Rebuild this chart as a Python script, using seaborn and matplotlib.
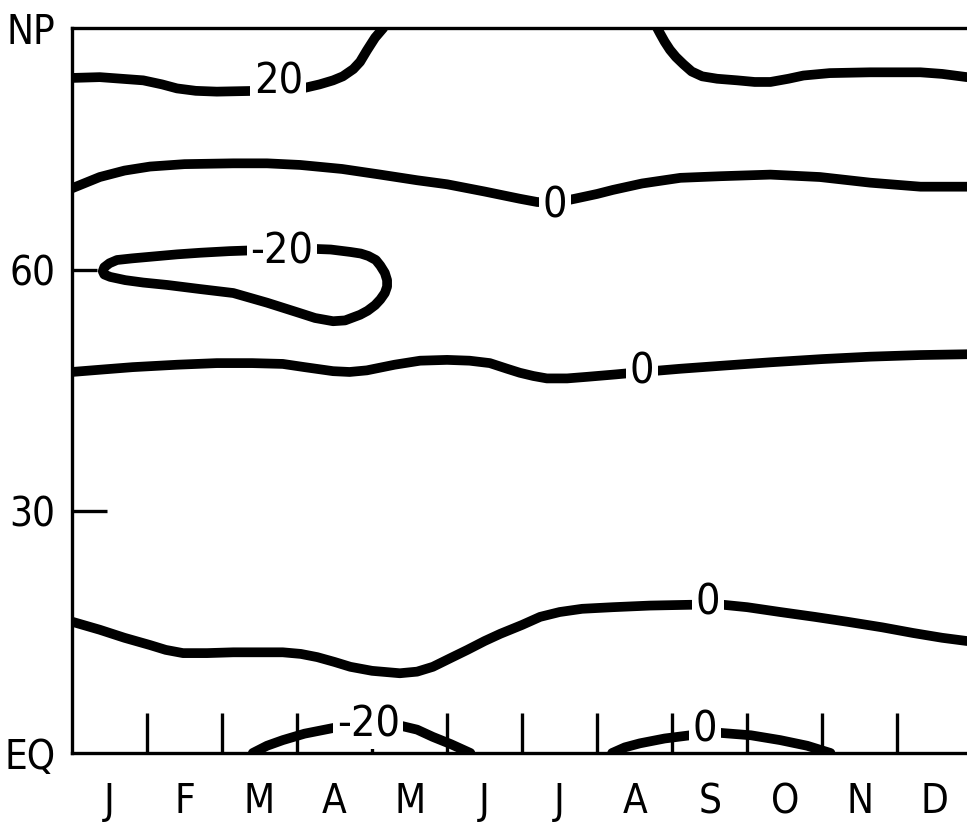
import matplotlib
matplotlib.use("Agg")
import matplotlib.pyplot as plt
import seaborn as sns

# ---- axis categories -------------------------------------------------------
months = ["J", "F", "M", "A", "M", "J", "J", "A", "S", "O", "N", "D"]
lat_ticks = [0, 30, 60, 90]
lat_tick_labels = ["EQ", "30", "60", "NP"]

# ---- isolines: month position (0 = start of Jan) and latitude (deg) --------
# +20 isoline, western piece (runs into the pole in spring)
iso20_w_month = [0.0, 0.37, 0.95, 1.20, 1.40, 1.65, 1.93, 2.47, 2.77, 3.07, 3.30, 3.48,
                 3.61, 3.75, 3.84, 3.93, 4.04, 4.15]
iso20_w_lat = [83.8, 83.9, 83.5, 83.0, 82.5, 82.2, 82.1, 82.2, 82.3, 82.5, 83.0, 83.5,
               84.0, 84.9, 85.8, 87.2, 88.8, 90.0]

# +20 isoline, eastern piece (comes back from the pole in late summer)
iso20_e_month = [7.80, 7.84, 7.90, 7.97, 8.05, 8.15, 8.26, 8.40, 8.60, 8.87, 9.10, 9.31,
                 9.55, 9.75, 10.10, 10.64, 11.31, 11.60, 11.93]
iso20_e_lat = [90.0, 89.3, 88.3, 87.3, 86.4, 85.5, 84.6, 84.0, 83.7, 83.5, 83.3, 83.3,
               83.7, 84.1, 84.4, 84.5, 84.5, 84.3, 83.9]

# zero line near 70N
iso0_high_month = [0.0, 0.37, 0.70, 1.04, 1.50, 2.15, 2.60, 3.04, 3.60, 4.11, 4.60, 5.00,
                   5.50, 5.97, 6.20, 6.44, 6.70, 7.00, 7.21, 7.60, 8.11, 8.64, 9.31, 9.97,
                   10.64, 11.31, 11.93]
iso0_high_lat = [70.1, 71.5, 72.3, 72.8, 73.1, 73.2, 73.2, 73.0, 72.5, 71.8, 71.1, 70.6,
                 69.7, 68.8, 68.4, 68.3, 68.8, 69.4, 69.9, 70.7, 71.4, 71.6, 71.8, 71.5,
                 70.8, 70.3, 70.3]

# closed -20 cell near 60N in winter/spring
iso_m20_cell_month = [2.80, 3.17, 3.45, 3.71, 3.85, 3.95, 4.05, 4.11, 4.17, 4.20, 4.20, 4.17,
                      4.11, 4.04, 3.94, 3.84, 3.64, 3.48, 3.24, 3.04, 2.60, 2.15, 1.70, 1.27,
                      0.95, 0.71, 0.51, 0.43, 0.41, 0.43, 0.50, 0.60, 0.80, 1.04, 1.40, 1.71,
                      2.10, 2.41, 2.80]
iso_m20_cell_lat = [62.4, 62.6, 62.5, 62.2, 62.0, 61.7, 61.2, 60.5, 59.6, 58.7, 57.9, 57.1,
                    56.3, 55.6, 54.9, 54.4, 53.7, 53.6, 54.0, 54.6, 55.9, 57.1, 57.6, 58.1,
                    58.4, 58.7, 59.1, 59.4, 59.8, 60.3, 60.8, 61.2, 61.4, 61.6, 61.9, 62.1,
                    62.3, 62.4, 62.4]

# zero line near 48N
iso0_mid_month = [0.0, 0.40, 0.81, 1.40, 1.93, 2.40, 2.81, 3.10, 3.48, 3.70, 3.93, 4.30,
                  4.64, 5.00, 5.30, 5.57, 5.80, 5.97, 6.15, 6.33, 6.60, 6.87, 7.25, 7.60,
                  8.11, 8.70, 9.31, 10.00, 10.64, 11.30, 11.93]
iso0_mid_lat = [47.3, 47.6, 47.9, 48.2, 48.4, 48.4, 48.3, 47.9, 47.4, 47.3, 47.5, 48.2,
                48.7, 48.8, 48.7, 48.4, 47.7, 47.2, 46.8, 46.5, 46.5, 46.7, 47.0, 47.3,
                47.7, 48.1, 48.5, 48.9, 49.2, 49.4, 49.5]

# zero line in the subtropics
iso0_low_month = [0.0, 0.37, 0.70, 1.04, 1.25, 1.48, 1.80, 2.15, 2.50, 2.81, 3.05, 3.27,
                  3.50, 3.71, 4.00, 4.37, 4.60, 4.81, 5.05, 5.27, 5.50, 5.71, 6.00, 6.24,
                  6.50, 6.80, 7.21, 7.70, 8.24, 8.68, 9.00, 9.44, 9.90, 10.33, 10.80,
                  11.21, 11.60, 11.93]
iso0_low_lat = [16.3, 15.3, 14.3, 13.4, 12.8, 12.4, 12.4, 12.5, 12.5, 12.5, 12.3, 11.9,
                11.3, 10.7, 10.2, 9.9, 10.1, 10.7, 11.8, 12.8, 13.9, 14.8, 15.9, 16.9,
                17.5, 17.9, 18.1, 18.3, 18.4, 18.4, 18.1, 17.5, 16.9, 16.3, 15.6,
                14.9, 14.3, 13.9]

# -20 arc at the equator (spring)
iso_m20_eq_month = [2.41, 2.60, 2.81, 3.10, 3.48, 3.95, 4.33, 4.60, 4.81, 5.05, 5.31]
iso_m20_eq_lat = [0.0, 0.9, 1.6, 2.4, 3.1, 3.6, 3.5, 2.9, 2.0, 1.1, 0.0]

# zero arc at the equator (late summer / autumn)
iso0_eq_month = [7.20, 7.37, 7.57, 7.90, 8.24, 8.44, 8.64, 9.05, 9.44, 9.80, 10.11]
iso0_eq_lat = [0.0, 0.7, 1.2, 1.8, 2.2, 2.5, 2.5, 2.2, 1.6, 0.9, 0.0]

# inline value labels
label_text = ["20", "0", "-20", "0", "0", "-20", "0"]
label_month = [2.75, 6.44, 2.80, 7.60, 8.48, 3.95, 8.44]
label_lat = [83.3, 68.0, 62.3, 47.4, 18.7, 3.5, 2.9]

isolines = [
    (iso20_w_month, iso20_w_lat),
    (iso20_e_month, iso20_e_lat),
    (iso0_high_month, iso0_high_lat),
    (iso_m20_cell_month, iso_m20_cell_lat),
    (iso0_mid_month, iso0_mid_lat),
    (iso0_low_month, iso0_low_lat),
    (iso_m20_eq_month, iso_m20_eq_lat),
    (iso0_eq_month, iso0_eq_lat),
]

# ---- styling ---------------------------------------------------------------
sns.set_theme(style="white")
font_list = ["Liberation Sans Narrow", "DejaVu Sans"]
plt.rcParams["font.family"] = font_list
plt.rcParams["font.stretch"] = "condensed"

fig = plt.figure(figsize=(9.67, 8.23), dpi=100)
ax = fig.add_axes([72 / 967, 70 / 823, 895 / 967, 725 / 823])

for xs, ys in isolines:
    sns.lineplot(x=xs, y=ys, sort=False, estimator=None, color="black",
                 linewidth=7, solid_capstyle="round", solid_joinstyle="round",
                 ax=ax, legend=False, zorder=3)

for t, m, la in zip(label_text, label_month, label_lat):
    ax.text(m, la, t, ha="center", va="center", fontsize=31, color="black",
            family=font_list, stretch="condensed", zorder=5,
            bbox=dict(boxstyle="square,pad=0.08", fc="white", ec="none"))

ax.set_xlim(0, 11.93)
ax.set_ylim(0, 90)

for side in ["left", "top", "bottom"]:
    ax.spines[side].set_visible(True)
    ax.spines[side].set_color("black")
    ax.spines[side].set_linewidth(2.4)
    ax.spines[side].set_zorder(6)
ax.spines["right"].set_visible(False)

# month boundaries carry the marks, month centres carry the letters
ax.set_xticks(range(1, 12))
ax.set_xticklabels([])
ax.set_xticks([i + 0.5 for i in range(12)], minor=True)
ax.set_xticklabels(months, minor=True)
ax.tick_params(axis="x", which="major", direction="in", length=29, width=2.4,
               color="black", bottom=True)
ax.tick_params(axis="x", which="minor", length=0, pad=21, labelsize=29,
               labelcolor="black", bottom=True)

ax.set_yticks(lat_ticks)
ax.set_yticklabels(lat_tick_labels)
ax.tick_params(axis="y", which="major", direction="in", width=2.4, color="black",
               pad=12, labelsize=29, labelcolor="black", left=True)
ax.set_xlabel("")
ax.set_ylabel("")

# the pole and equator labels have no marks; 30 carries a longer mark than 60
for tick, L in zip(ax.yaxis.get_major_ticks(), [0, 25, 18, 0]):
    tick.tick1line.set_markersize(L)

fig.savefig("out.png", dpi=100, facecolor="white")
